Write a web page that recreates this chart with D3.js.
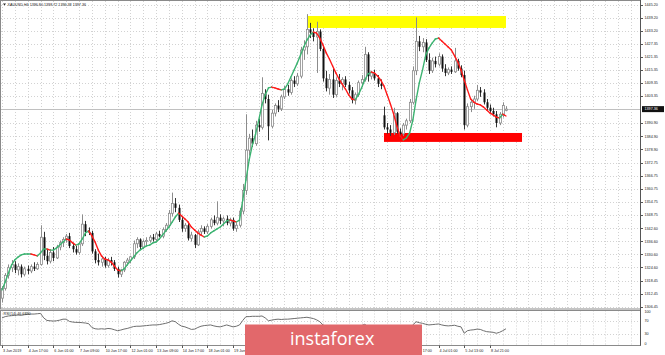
<!DOCTYPE html>
<html>
<head>
<meta charset="utf-8">
<script src="https://cdn.jsdelivr.net/npm/d3@7"></script>
<style>
  body { margin: 0; background: #fff; }
  svg { display: block; font-family: "Liberation Sans", Arial, sans-serif; }
</style>
</head>
<body>
<svg id="chart" width="665" height="355"></svg>
<script>
var symbolTitle = 'XAUUSD,H4  1396.80 1398.72 1396.38 1397.36';
var rsiTitle = 'RSI(14) 46.6890';

// one row per H4 bar: open, high, low, close
var candles = [
  [1310.5,1316,1308.5,1315],[1315,1322,1314,1321],[1321,1326,1319.5,1324.5],[1324.5,1328,1322.5,1326],
  [1326,1327.5,1322,1323.5],[1323.5,1326.5,1321,1325],[1325,1326,1320,1321.5],[1321.5,1325,1320.5,1324],
  [1324,1325.5,1321.5,1323],[1323,1326,1322,1325],[1325,1327,1323,1324],[1324,1327,1323.5,1326],
  [1326,1344,1325.5,1338.5],[1338.5,1341,1328,1330],[1330,1333,1326,1327.5],[1327.5,1333,1326.5,1331.5],
  [1331.5,1334,1327.5,1329],[1329,1335,1328.5,1334],[1334,1337,1332.5,1336],[1336,1338.5,1334,1337.5],
  [1337.5,1340,1336,1339],[1339,1340.5,1333.5,1334.5],[1334.5,1336,1331.5,1333],[1333,1334.5,1330.5,1331.5],
  [1331.5,1336,1330.5,1335.5],[1335.5,1349,1334.5,1344.5],[1344.5,1346,1339,1341],[1341,1343,1339.5,1340.5],
  [1340.5,1341.5,1331,1332],[1332,1333,1326.5,1328],[1328,1331,1325.5,1327],[1327,1330,1325,1328.5],
  [1328.5,1329.5,1324.5,1325.5],[1325.5,1329,1324.5,1328],[1328,1329.5,1325.5,1327],[1327,1328,1323,1324],
  [1324,1325,1320,1321.5],[1321.5,1324,1320.2,1323.5],[1323.5,1327.5,1322.5,1327],[1327,1329,1325.5,1328],
  [1328,1330,1326.5,1329.5],[1329.5,1337,1328.5,1335.5],[1335.5,1338.5,1333.5,1337.5],[1337.5,1338,1333,1334],
  [1334,1337.5,1333,1336.5],[1336.5,1338.5,1334.5,1337],[1337,1339.5,1336,1338.5],[1338.5,1340,1336.5,1337.5],
  [1337.5,1341,1336.5,1340],[1340,1341.5,1338.5,1339],[1339,1343,1338,1342],[1342,1345,1341,1344],
  [1344,1351,1343,1349.5],[1349.5,1359,1348,1354],[1354,1356.5,1350,1352],[1352,1353.5,1345.5,1346.5],
  [1346.5,1348,1341,1342.5],[1342.5,1345,1341,1344],[1344,1345,1337,1338],[1338,1341,1336.5,1339.5],
  [1339.5,1340,1333.5,1335],[1335,1342,1334.5,1341],[1341,1344,1339.5,1342.5],[1342.5,1343.5,1340,1341],
  [1341,1344.5,1340,1343.5],[1343.5,1347.5,1342.5,1346.5],[1346.5,1348.5,1344,1345],[1345,1355,1344,1347.5],
  [1347.5,1349,1344.5,1346],[1346,1348,1343.5,1347],[1347,1348.5,1344,1345],[1345,1347.5,1343.5,1346.5],
  [1346.5,1347.5,1341.5,1342.5],[1342.5,1345,1341,1344],[1344,1352,1343,1350.5],[1350.5,1363,1349,1360],
  [1360,1395,1358,1378.5],[1378.5,1386,1376,1384],[1384,1388,1380,1381.5],[1381.5,1392,1380.5,1390],
  [1390,1393,1387,1389],[1389,1412,1388,1404.5],[1404.5,1406.5,1400,1402],[1402,1404,1383,1389.5],
  [1389.5,1397,1388.5,1395.5],[1395.5,1400,1394,1399],[1399,1401.5,1396,1397.5],[1397.5,1404,1396.5,1403],
  [1403,1408,1402,1406.5],[1406.5,1408.5,1403.5,1405],[1405,1411.5,1404,1410.5],[1410.5,1412.5,1407.5,1409],
  [1409,1414,1408,1412.5],[1412.5,1426,1411.5,1424.5],[1424.5,1429,1420,1426],[1426,1441,1422.5,1434],
  [1434,1437,1430,1432.5],[1432.5,1434.5,1428.5,1430.5],[1430.5,1437.5,1414,1433],[1433,1434,1424,1425],
  [1425,1426.5,1410,1411.5],[1411.5,1415,1405.5,1407],[1407,1413.5,1404,1411],[1411,1416,1402.5,1404],
  [1404,1412,1403,1410.5],[1410.5,1413.5,1407.5,1409],[1409,1412,1406,1411],[1411,1412.5,1407.5,1408.5],
  [1408.5,1410,1404.5,1406],[1406,1407.5,1400,1401.5],[1401.5,1405,1399.5,1404],[1404,1410.5,1403,1409.5],
  [1409.5,1413,1407.5,1411],[1411,1426,1410,1422.5],[1422.5,1423.5,1410,1412.5],[1412.5,1415,1411,1414],
  [1414,1415.5,1410.5,1411.5],[1411.5,1413,1407.5,1409],[1409,1411,1406.5,1408],[1394.5,1398.5,1388,1389],
  [1389,1391,1386,1388],[1388,1390,1385,1386.5],[1386.5,1398,1385.5,1395.5],[1395.5,1396,1386,1387],
  [1387,1388.5,1384,1386],[1386,1391,1385,1390],[1390,1393,1388,1392],[1392,1402,1391,1400.5],
  [1400.5,1417,1399.5,1415],[1415,1439.5,1413,1428.5],[1428.5,1431,1424,1426],[1426,1430,1423.5,1428],
  [1428,1429.5,1419,1420],[1420,1423,1413.5,1415],[1415,1421,1414,1419.5],[1419.5,1421.5,1416.5,1418],
  [1418,1423,1417,1421.5],[1421.5,1422.5,1414.5,1416],[1416,1418,1412.5,1414],[1414,1416.5,1413,1415.5],
  [1415.5,1417,1413.5,1414.5],[1414.5,1425.5,1414,1419.5],[1419.5,1420.5,1415,1416],[1416,1417.5,1412,1413],
  [1413,1415,1388,1390],[1390,1400,1389,1398.5],[1398.5,1402,1396,1400.5],[1400.5,1403.5,1397.5,1402],
  [1402,1408.5,1401,1406],[1406,1407.5,1403,1405],[1405,1406.5,1399.5,1400.5],[1400.5,1402,1396.5,1398],
  [1398,1399.5,1395,1396.5],[1396.5,1398,1394,1395],[1395,1396.5,1389,1391],[1391,1396,1390,1395],
  [1394.5,1400.5,1393.5,1399],[1396.8,1398.72,1396.38,1397.36]
];

// colour-changing moving average, one value per bar
var maLine = [
  1314.3,1317.9,1322.1,1325.8,1328.1,1329.4,1330.4,1330.8,1330.8,1330.8,
  1330.4,1329.9,1331.3,1333.1,1333.1,1332.6,1332.6,1333.6,1334.9,1336.3,
  1337.7,1337.2,1335.9,1334.9,1335.4,1337.7,1340.5,1341.4,1339.1,1336.3,
  1332.6,1329.9,1328.5,1328.1,1327.1,1325.3,1323.5,1323.0,1323.9,1325.8,
  1327.6,1329.4,1331.3,1332.6,1333.6,1334.5,1334.9,1335.9,1336.3,1337.7,
  1339.5,1341.4,1343.2,1345.5,1347.8,1349.6,1348.3,1346.9,1345.5,1343.2,
  1341.8,1340.5,1339.5,1338.6,1339.1,1340.5,1341.4,1342.3,1343.2,1344.6,
  1346.0,1346.4,1346.0,1345.5,1346.4,1355.6,1364.8,1374.0,1380.9,1385.9,
  1392.4,1399.3,1403.9,1407.1,1407.5,1407.1,1406.6,1406.2,1406.6,1408.9,
  1412.1,1415.3,1418.6,1422.2,1425.9,1429.1,1431.4,1432.8,1432.3,1430.0,
  1426.8,1423.2,1420.4,1417.2,1414.0,1411.2,1408.9,1406.6,1403.9,1402.0,
  1401.6,1403.9,1407.1,1410.7,1413.5,1414.4,1414.0,1412.6,1410.7,1408.0,
  1403.9,1399.7,1395.1,1389.6,1385.0,1383.2,1384.1,1386.4,1392.4,1401.6,
  1409.4,1415.3,1422.2,1425.4,1427.7,1429.6,1430.0,1428.7,1427.3,1425.9,
  1424.5,1421.8,1419.0,1415.3,1410.7,1406.2,1402.0,1400.6,1399.7,1399.3,
  1398.3,1397.0,1395.6,1394.7,1393.7,1393.3,1395.1,1394.2
];

var rsiLine = [
  80,84,86,87,88,89,88,90,91,92,92,93,94,80,72,71,70,71,73,76,
  76,69,67,66,66,65,64,62,50,46,45,46,45,47,46,43,40,42,45,47,
  50,53,54,54,55,56,57,58,58,59,61,63,66,71,68,60,54,52,48,44,
  45,50,54,56,57,58,55,53,52,55,58,55,52,54,58,72,84,84,85,85,
  85,86,80,71,73,75,76,75,76,76,77,78,79,80,81,82,80,78,74,68,
  58,54,56,51,54,53,55,52,50,46,48,53,56,60,53,54,52,50,49,38,
  37,35,41,36,34,37,40,46,58,68,65,63,60,58,59,60,61,58,56,55,
  56,57,54,52,32,40,42,43,45,44,40,37,36,35,32,35,40,46
];

// label shown every 8th bar
var timeLabels = [
  '3 Jun 2019','4 Jun 17:00','6 Jun 01:00','7 Jun 09:00','10 Jun 17:00','12 Jun 01:00',
  '13 Jun 09:00','14 Jun 17:00','18 Jun 01:00','19 Jun 09:00','20 Jun 17:00','24 Jun 01:00',
  '25 Jun 09:00','26 Jun 17:00','28 Jun 01:00','1 Jul 09:00','2 Jul 17:00','4 Jul 01:00',
  '5 Jul 13:00','8 Jul 21:00'
];

var priceTicks = [
  1445.20,1439.20,1433.20,1427.35,1421.35,1415.35,1409.35,1403.35,1390.90,1384.90,
  1378.90,1372.75,1366.75,1360.75,1354.75,1348.75,1342.60,1336.60,1330.60,1324.60,
  1318.45,1312.45,1306.45
];
var rsiTicks = [100, 70, 30, 0];
var lastPrice = 1397.36;

// rectangles drawn on the chart (bar index from/to, price top/bottom)
var zoneFrom = [95, 119];
var zoneTo = [157, 162];
var zoneTop = [1440.15, 1386.4];
var zoneBottom = [1434.65, 1382.3];
var zoneColor = ['#ffff00', '#ff0000'];

var svg = d3.select('#chart');
var W = 665, H = 355;
var left = 1, right = 640;
var mainTop = 1, mainBottom = 308.5;
var subTop = 310.5, subBottom = 345.5;
var step = 3.21;

var x = d3.scaleLinear().domain([0, 152]).range([2, 2 + step * 152]);
var y = d3.scaleLinear().domain([1306.45, 1445.20]).range([307, 5]);
var yr = d3.scaleLinear().domain([0, 100]).range([343.5, 311.5]);

svg.append('rect').attr('width', W).attr('height', H).attr('fill', '#fff');

svg.append('clipPath').attr('id', 'clipMain')
  .append('rect').attr('x', left).attr('y', mainTop).attr('width', right - left).attr('height', mainBottom - mainTop);
svg.append('clipPath').attr('id', 'clipSub')
  .append('rect').attr('x', left).attr('y', subTop).attr('width', right - left).attr('height', subBottom - subTop);

// grid
var gridBars = d3.range(0, 200, 4);
var grid = svg.append('g').attr('stroke', '#d2d2d2').attr('stroke-width', 1).attr('stroke-dasharray', '1,2');
grid.selectAll('.vg').data(gridBars).enter().append('line')
  .attr('x1', function(d) { return Math.round(x(d)) + 0.5 })
  .attr('x2', function(d) { return Math.round(x(d)) + 0.5 })
  .attr('y1', mainTop).attr('y2', mainBottom);
grid.selectAll('.vs').data(gridBars).enter().append('line')
  .attr('x1', function(d) { return Math.round(x(d)) + 0.5 })
  .attr('x2', function(d) { return Math.round(x(d)) + 0.5 })
  .attr('y1', subTop).attr('y2', subBottom);
grid.selectAll('.hg').data(priceTicks).enter().append('line')
  .attr('x1', left).attr('x2', right)
  .attr('y1', function(d) { return Math.round(y(d)) + 0.5 })
  .attr('y2', function(d) { return Math.round(y(d)) + 0.5 });
grid.selectAll('.hs').data([70, 30]).enter().append('line')
  .attr('x1', left).attr('x2', right)
  .attr('y1', function(d) { return Math.round(yr(d)) + 0.5 })
  .attr('y2', function(d) { return Math.round(yr(d)) + 0.5 });

var main = svg.append('g').attr('clip-path', 'url(#clipMain)');

// zones sit behind the candles
main.selectAll('.zone').data(zoneFrom).enter().append('rect')
  .attr('x', function(d) { return x(d) })
  .attr('width', function(d, i) { return x(zoneTo[i]) - x(d) })
  .attr('y', function(d, i) { return y(zoneTop[i]) })
  .attr('height', function(d, i) { return y(zoneBottom[i]) - y(zoneTop[i]) })
  .attr('fill', function(d, i) { return zoneColor[i] });

// bid line
main.append('line')
  .attr('x1', left).attr('x2', right)
  .attr('y1', Math.round(y(lastPrice)) + 0.5).attr('y2', Math.round(y(lastPrice)) + 0.5)
  .attr('stroke', '#c0c0c0').attr('stroke-width', 1);

var bars = main.selectAll('.candle').data(candles).enter().append('g');
bars.append('line')
  .attr('x1', function(d, i) { return Math.round(x(i)) + 0.5 })
  .attr('x2', function(d, i) { return Math.round(x(i)) + 0.5 })
  .attr('y1', function(d) { return y(d[1]) })
  .attr('y2', function(d) { return y(d[2]) })
  .attr('stroke', function(d) { return d[3] >= d[0] ? '#8c8c8c' : '#333' })
  .attr('stroke-width', 1);
bars.append('rect')
  .attr('x', function(d, i) { return Math.round(x(i)) - 0.5 })
  .attr('width', 2)
  .attr('y', function(d) { return y(Math.max(d[0], d[3])) })
  .attr('height', function(d) { return Math.max(1, Math.abs(y(d[0]) - y(d[3]))) })
  .attr('fill', function(d) { return d[3] >= d[0] ? '#fff' : '#111' })
  .attr('stroke', function(d) { return d[3] >= d[0] ? '#8c8c8c' : 'none' })
  .attr('stroke-width', 0.8);

// moving average: green while rising, red while falling
var segs = d3.range(maLine.length - 1);
main.selectAll('.ma').data(segs).enter().append('line')
  .attr('x1', function(i) { return x(i) })
  .attr('x2', function(i) { return x(i + 1) })
  .attr('y1', function(i) { return y(maLine[i]) })
  .attr('y2', function(i) { return y(maLine[i + 1]) })
  .attr('stroke', function(i) { return maLine[i + 1] >= maLine[i] ? '#3cb371' : '#ff1a1a' })
  .attr('stroke-width', 1.4)
  .attr('stroke-linecap', 'round');

// RSI sub window
var sub = svg.append('g').attr('clip-path', 'url(#clipSub)');
sub.append('path')
  .datum(rsiLine)
  .attr('d', d3.line().x(function(d, i) { return x(i) }).y(function(d) { return yr(d) }))
  .attr('fill', 'none').attr('stroke', '#6e6e6e').attr('stroke-width', 1);

// frames
var frame = svg.append('g').attr('fill', 'none').attr('stroke', '#8a8a8a').attr('stroke-width', 1);
frame.append('rect').attr('x', 0.5).attr('y', 0.5).attr('width', right).attr('height', mainBottom);
frame.append('rect').attr('x', 0.5).attr('y', subTop).attr('width', right).attr('height', subBottom - subTop);
svg.append('line').attr('x1', right + 0.5).attr('x2', right + 0.5).attr('y1', 0).attr('y2', subBottom)
  .attr('stroke', '#555');

// price axis
var ax = svg.append('g').attr('font-size', '3.7px').attr('fill', '#222');
ax.selectAll('.pt').data(priceTicks).enter().append('line')
  .attr('x1', right).attr('x2', right + 3)
  .attr('y1', function(d) { return Math.round(y(d)) + 0.5 })
  .attr('y2', function(d) { return Math.round(y(d)) + 0.5 })
  .attr('stroke', '#555');
ax.selectAll('.pl').data(priceTicks).enter().append('text')
  .attr('x', right + 4.5)
  .attr('y', function(d) { return y(d) + 1.3 })
  .text(function(d) { return d.toFixed(2) });
ax.append('rect').attr('x', right + 2).attr('y', y(lastPrice) - 3).attr('width', 22).attr('height', 6).attr('fill', '#111');
ax.append('text').attr('x', right + 4.5).attr('y', y(lastPrice) + 1.3).attr('fill', '#fff').text(lastPrice.toFixed(2));

ax.selectAll('.rl').data(rsiTicks).enter().append('text')
  .attr('x', right + 4.5)
  .attr('y', function(d) { return yr(d) + 1.3 })
  .text(function(d) { return d });

// time axis
var tIdx = d3.range(0, 153, 8);
ax.selectAll('.tt').data(tIdx).enter().append('line')
  .attr('x1', function(d) { return Math.round(x(d)) + 0.5 })
  .attr('x2', function(d) { return Math.round(x(d)) + 0.5 })
  .attr('y1', subBottom).attr('y2', subBottom + 2.5)
  .attr('stroke', '#555');
ax.selectAll('.tl').data(tIdx).enter().append('text')
  .attr('x', function(d) { return x(d) + 1 })
  .attr('y', 352)
  .text(function(d, i) { return timeLabels[i] });

// titles
ax.append('path').attr('d', 'M3,3.5L6,3.5L4.5,5.5Z').attr('fill', '#222');
ax.append('text').attr('x', 7.5).attr('y', 6).text(symbolTitle);
ax.append('text').attr('x', 3.5).attr('y', 315).text(rsiTitle);

// watermark
svg.append('rect').attr('x', 245).attr('y', 324.5).attr('width', 177).attr('height', 31).attr('fill', '#e2686b');
svg.append('text').attr('x', 290).attr('y', 345)
  .attr('font-family', '"Open Sans", sans-serif').attr('font-size', '18px').attr('fill', '#fff')
  .text('instaforex');
</script>
</body>
</html>
